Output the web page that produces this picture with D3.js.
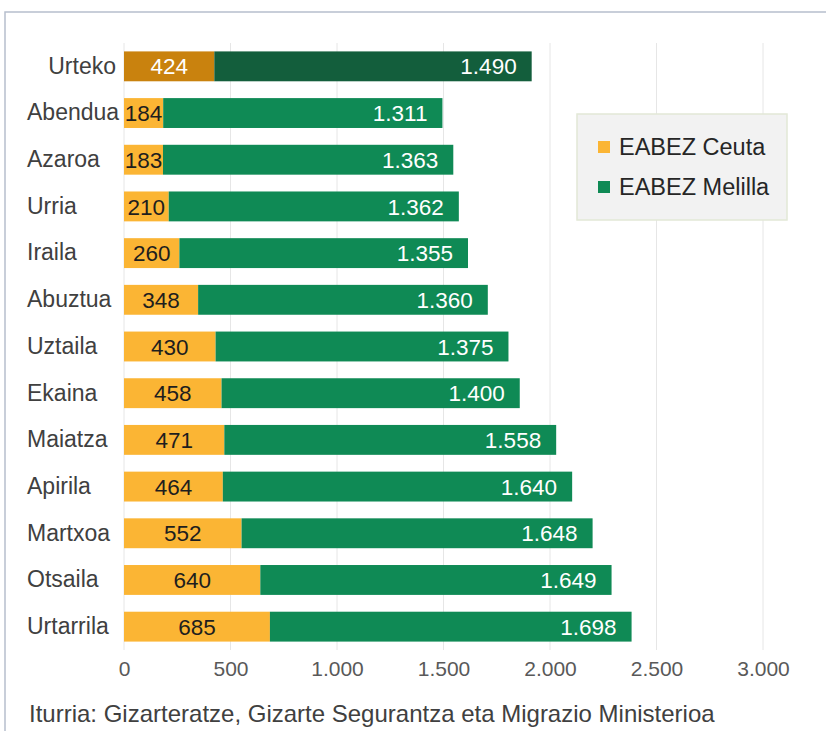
<!DOCTYPE html>
<html><head><meta charset="utf-8">
<script src="https://cdn.jsdelivr.net/npm/d3@7"></script>
<style>body{margin:0;background:#fff}svg{display:block}text{font-family:"Liberation Sans",Arial,sans-serif}</style>
</head><body><svg id="c" width="826" height="731"></svg>
<script>
const categories = ["Urteko","Abendua","Azaroa","Urria","Iraila","Abuztua","Uztaila","Ekaina","Maiatza","Apirila","Martxoa","Otsaila","Urtarrila"];
const ceuta = [424,184,183,210,260,348,430,458,471,464,552,640,685];
const melilla = [1490,1311,1363,1362,1355,1360,1375,1400,1558,1640,1648,1649,1698];
const ticks = [0,500,1000,1500,2000,2500,3000];
const seriesNames = ["EABEZ Ceuta","EABEZ Melilla"];
const sourceText = "Iturria: Gizarteratze, Gizarte Segurantza eta Migrazio Ministerioa";

const colors = {ceuta:"#FBB534", melilla:"#0F8A55", ceutaTot:"#C9820E", melillaTot:"#135E3C"};
const loc = d3.formatLocale({decimal:",", thousands:".", grouping:[3], currency:["","€"]});
const fmt = loc.format(",d");

const svg = d3.select("#c");
const x = d3.scaleLinear().domain([0,3000]).range([124,763]);
const y = d3.scaleBand().domain(categories).range([43,650]).paddingInner(0.36).paddingOuter(0.18);

// frame
svg.append("path").attr("d","M5,731V12H826").attr("fill","none").attr("stroke","#b7bfcd").attr("stroke-width",1.5);

// grid
svg.append("g").selectAll("line").data(ticks).join("line")
  .attr("x1",d=>x(d)).attr("x2",d=>x(d)).attr("y1",43).attr("y2",650)
  .attr("stroke","#e6e6e6").attr("stroke-width",1);

// x axis labels
const xAxis = d3.axisBottom(x).tickValues(ticks).tickFormat(fmt).tickSize(0).tickPadding(0);
const gx = svg.append("g").attr("transform","translate(0,661)").call(xAxis);
gx.select(".domain").remove();
gx.selectAll("text").attr("font-size",21).attr("fill","#595959").attr("dy","0.71em")
  .style("font-family","'Liberation Sans',Arial,sans-serif");

// y axis labels
const yAxis = d3.axisLeft(y).tickSize(0).tickPadding(0);
const gy = svg.append("g").attr("transform","translate(116,0)").call(yAxis);
gy.select(".domain").remove();
gy.selectAll("text").attr("font-size",23).attr("fill","#404040")
  .style("font-family","'Liberation Sans',Arial,sans-serif")
  .attr("text-anchor",(d,i)=>i===0?"end":"start")
  .attr("x",(d,i)=>i===0?0:-89);

const rows = categories.map((c,i)=>({c, a:ceuta[i], b:melilla[i], tot:i===0}));
const g = svg.append("g");
g.selectAll("rect.a").data(rows).join("rect").attr("class","a")
  .attr("x",x(0)).attr("y",d=>y(d.c)).attr("height",y.bandwidth())
  .attr("width",d=>x(d.a)-x(0)).attr("fill",d=>d.tot?colors.ceutaTot:colors.ceuta);
g.selectAll("rect.b").data(rows).join("rect").attr("class","b")
  .attr("x",d=>x(d.a)).attr("y",d=>y(d.c)).attr("height",y.bandwidth())
  .attr("width",d=>x(d.a+d.b)-x(d.a)).attr("fill",d=>d.tot?colors.melillaTot:colors.melilla);

g.selectAll("text.a").data(rows).join("text").attr("class","a")
  .attr("x",d=>(x(0)+x(d.a))/2).attr("y",d=>y(d.c)+y.bandwidth()/2).attr("dy","0.36em")
  .attr("text-anchor","middle").attr("font-size",22.5)
  .attr("fill",d=>d.tot?"#ffffff":"#1e1e1e").text(d=>fmt(d.a));
g.selectAll("text.b").data(rows).join("text").attr("class","b")
  .attr("x",d=>x(d.a+d.b)-15).attr("y",d=>y(d.c)+y.bandwidth()/2).attr("dy","0.36em")
  .attr("text-anchor","end").attr("font-size",22.5)
  .attr("fill","#ffffff").text(d=>fmt(d.b));

// legend
const lg = svg.append("g");
lg.append("rect").attr("x",577).attr("y",114).attr("width",210).attr("height",106)
  .attr("fill","#f2f2f2").attr("stroke","#e2e8d6").attr("stroke-width",1.5);
seriesNames.forEach((n,i)=>{
  const yy = 147 + i*40;
  lg.append("rect").attr("x",598).attr("y",yy-6).attr("width",12).attr("height",12)
    .attr("fill",i===0?colors.ceuta:colors.melilla);
  lg.append("text").attr("x",619).attr("y",yy).attr("dy","0.36em").attr("font-size",23.5)
    .attr("fill","#262626").text(n);
});

// source
svg.append("text").attr("x",29).attr("y",722).attr("font-size",24).attr("fill","#404040").text(sourceText);
</script></body></html>
